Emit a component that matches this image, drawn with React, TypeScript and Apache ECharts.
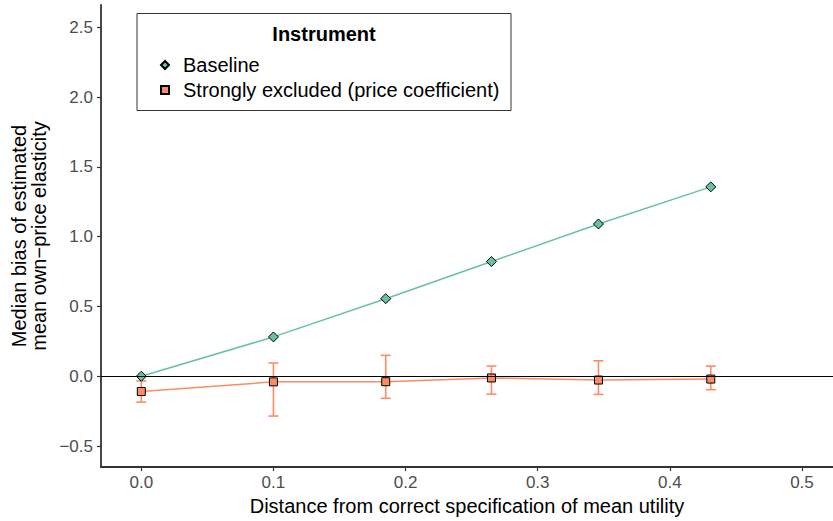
import React, { useEffect, useRef } from "react";
import * as echarts from "echarts";

const distances = [0, 0.1, 0.185, 0.265, 0.346, 0.431];
const baselineBias = [0.0, 0.282, 0.556, 0.822, 1.091, 1.357];
const excludedBias = [-0.109, -0.04, -0.039, -0.012, -0.027, -0.02];
const excludedLow = [-0.185, -0.285, -0.158, -0.128, -0.13, -0.096];
const excludedHigh = [-0.033, 0.095, 0.15, 0.073, 0.111, 0.073];
const xTicks = [0, 0.1, 0.2, 0.3, 0.4, 0.5];
const yTicks = [-0.5, 0, 0.5, 1, 1.5, 2, 2.5];
const seriesNames = ["Baseline", "Strongly excluded (price coefficient)"];
const legendTitle = "Instrument";

const FONT = "'Liberation Sans', Arial, Helvetica, sans-serif";
const GREEN = "#66c2a5";
const ORANGE = "#fc8d62";

const fmt = (v: number) => (v < 0 ? "\u2212" + Math.abs(v).toFixed(1) : v.toFixed(1));

export default function App() {
  const ref = useRef<HTMLDivElement>(null);
  useEffect(() => {
    if (!ref.current) return;
    const chart = echarts.init(ref.current, undefined, { renderer: "svg" });
    const errData = distances.map((x, i) => [x, excludedLow[i], excludedHigh[i]]);
    chart.setOption({
      animation: false,
      textStyle: { fontFamily: FONT },
      grid: { left: 101, top: 5, right: 0, bottom: 52 },
      xAxis: {
        type: "value",
        min: -0.0305,
        max: 0.5235,
        splitLine: { show: false },
        axisLine: { show: true, onZero: false, lineStyle: { color: "#333", width: 1.8 } },
        axisTick: { show: true, length: 4, customValues: xTicks, lineStyle: { color: "#333", width: 1.2 } },
        axisLabel: {
          customValues: xTicks,
          formatter: fmt,
          fontSize: 17,
          color: "#4d4d4d",
          margin: 7,
          fontFamily: FONT,
        },
        name: "Distance from correct specification of mean utility",
        nameLocation: "middle",
        nameGap: 29,
        nameTextStyle: { fontSize: 20, color: "#000", fontFamily: FONT },
      },
      yAxis: {
        type: "value",
        min: -0.65,
        max: 2.66,
        splitLine: { show: false },
        axisLine: { show: true, onZero: false, lineStyle: { color: "#333", width: 1.8 } },
        axisTick: { show: true, length: 4, customValues: yTicks, lineStyle: { color: "#333", width: 1.2 } },
        axisLabel: {
          customValues: yTicks,
          formatter: fmt,
          fontSize: 17,
          color: "#4d4d4d",
          margin: 8,
          fontFamily: FONT,
        },
        name: "Median bias of estimated\nmean own\u2212price elasticity",
        nameLocation: "middle",
        nameGap: 40,
        nameRotate: 90,
        nameTextStyle: { fontSize: 20, color: "#000", lineHeight: 20, fontFamily: FONT },
      },
      legend: {
        left: 155,
        top: 50,
        orient: "vertical",
        itemWidth: 8,
        itemHeight: 8,
        itemGap: 5,
        textStyle: { fontSize: 20, color: "#000", lineHeight: 20, padding: [0, 0, 0, 9], fontFamily: FONT },
        data: [
          { name: seriesNames[0], icon: "diamond" },
          { name: seriesNames[1], icon: "rect" },
        ],
      },
      graphic: [
        {
          type: "rect",
          shape: { x: 137, y: 13.5, width: 374, height: 97 },
          style: { fill: "#fff", stroke: "#333", lineWidth: 1 },
          z: -1,
        },
        {
          type: "text",
          x: 324,
          y: 33.5,
          style: {
            text: legendTitle,
            fontSize: 20,
            fontWeight: "bold",
            fill: "#000",
            align: "center",
            verticalAlign: "middle",
            fontFamily: FONT,
          },
        },
      ],
      series: [
        {
          type: "custom",
          name: "errbars",
          silent: true,
          z: 1,
          data: errData,
          encode: { x: 0, y: [1, 2] },
          renderItem: (params: any, api: any) => {
            const x = api.value(0);
            const lo = api.coord([x, api.value(1)]);
            const hi = api.coord([x, api.value(2)]);
            const half = 5;
            const style = { stroke: ORANGE, lineWidth: 1.6 };
            return {
              type: "group",
              children: [
                { type: "line", shape: { x1: lo[0], y1: lo[1], x2: hi[0], y2: hi[1] }, style },
                { type: "line", shape: { x1: lo[0] - half, y1: lo[1], x2: lo[0] + half, y2: lo[1] }, style },
                { type: "line", shape: { x1: hi[0] - half, y1: hi[1], x2: hi[0] + half, y2: hi[1] }, style },
              ],
            };
          },
          markLine: {
            silent: true,
            symbol: "none",
            label: { show: false },
            lineStyle: { color: "#000", type: "solid", width: 1.2 },
            data: [{ yAxis: 0 }],
          },
        },
        {
          type: "line",
          name: seriesNames[0],
          z: 3,
          data: distances.map((x, i) => [x, baselineBias[i]]),
          symbol: "diamond",
          symbolSize: 10,
          itemStyle: { color: GREEN, borderColor: "#000", borderWidth: 1 },
          lineStyle: { color: GREEN, width: 1.5 },
        },
        {
          type: "line",
          name: seriesNames[1],
          z: 3,
          data: distances.map((x, i) => [x, excludedBias[i]]),
          symbol: "rect",
          symbolSize: 8,
          itemStyle: { color: ORANGE, borderColor: "#000", borderWidth: 1 },
          lineStyle: { color: ORANGE, width: 1.5 },
        },
      ],
    });
    return () => chart.dispose();
  }, []);
  return (
    <div
      ref={ref}
      style={{ position: "fixed", left: 0, top: 0, width: 833, height: 521, background: "#fff" }}
    />
  );
}
